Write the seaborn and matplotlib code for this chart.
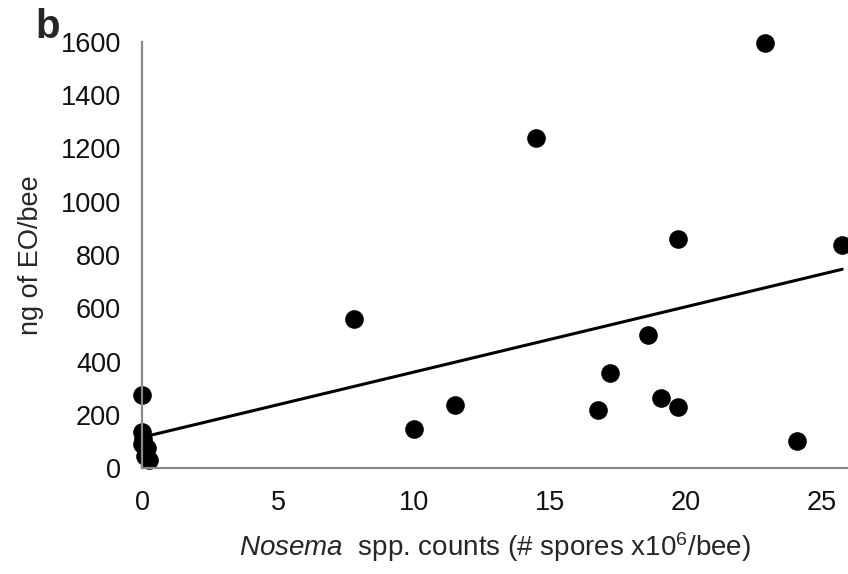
import seaborn as sns
import matplotlib.pyplot as plt
import pandas as pd

# spore counts (x10^6 / bee) and ng of EO per bee
spores = [0, 0, 0, 0.05, 0.2, 0.1, 0.25,
          7.8, 10.0, 11.5, 14.5, 16.75, 17.2, 18.6, 19.1, 19.7, 19.7, 22.9, 24.1, 25.75]
eo_ng = [275, 135, 90, 110, 75, 45, 30,
         560, 148, 235, 1240, 218, 355, 500, 262, 228, 860, 1595, 100, 838]

xticks = [0, 5, 10, 15, 20, 25]
yticks = [0, 200, 400, 600, 800, 1000, 1200, 1400, 1600]

df = pd.DataFrame({"spores": spores, "eo": eo_ng})

sns.set_style("white")
plt.rcParams["font.family"] = ["Liberation Sans", "DejaVu Sans"]
plt.rcParams["mathtext.fontset"] = "custom"
plt.rcParams["mathtext.rm"] = "Liberation Sans"
plt.rcParams["mathtext.it"] = "Liberation Sans:italic"

fig = plt.figure(figsize=(8.48, 5.74), dpi=100)
ax = fig.add_axes([142 / 848, 1 - 468 / 574, 1 - 142 / 848, (468 - 42) / 574])

sns.regplot(data=df, x="spores", y="eo", ax=ax, ci=None, truncate=True,
            scatter_kws={"s": 180, "color": "black", "linewidths": 0, "alpha": 1, "clip_on": False},
            line_kws={"color": "black", "lw": 2.2})

ax.set_xlim(0, 25.96)
ax.set_ylim(0, 1600)
ax.set_xticks(xticks)
ax.set_yticks(yticks)

for side in ["top", "right"]:
    ax.spines[side].set_visible(False)
for side in ["left", "bottom"]:
    ax.spines[side].set_color("#8a8a8a")
    ax.spines[side].set_linewidth(1.6)
ax.tick_params(axis="both", direction="out", length=7, width=1.4, color="#8a8a8a",
               labelsize=19.5, labelcolor="#111111", pad=8)
ax.tick_params(axis="x", pad=9)

ax.set_xlabel(r"$\mathit{Nosema}$  spp. counts (# spores x10$^{6}$/bee)", fontsize=20, labelpad=10)
ax.set_ylabel("ng of EO/bee", fontsize=19.5, labelpad=12)

fig.text(35 / 848, 1 - 27 / 574, "b", fontsize=29, fontweight="bold", va="center", ha="left")

fig.savefig("out.png", dpi=100)
